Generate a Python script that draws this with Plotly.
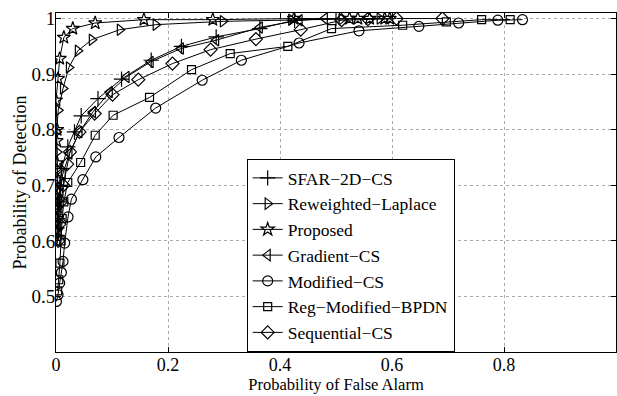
import plotly.graph_objects as go

# ---- data ----
sfar_x = [0.002, 0.003, 0.005, 0.007, 0.010, 0.021, 0.033, 0.045, 0.075, 0.117, 0.170, 0.224, 0.286, 0.364, 0.426, 0.500]
sfar_y = [0.610, 0.640, 0.670, 0.700, 0.730, 0.769, 0.796, 0.825, 0.856, 0.891, 0.925, 0.950, 0.967, 0.982, 0.997, 1.000]

rw_x = [0.002, 0.002, 0.003, 0.002, 0.002, 0.001, 0.004, 0.0125, 0.023, 0.039, 0.064, 0.114, 0.178, 0.298, 0.420, 0.510, 0.578]
rw_y = [0.620, 0.660, 0.700, 0.730, 0.760, 0.796, 0.835, 0.874, 0.912, 0.942, 0.962, 0.980, 0.989, 0.995, 0.998, 0.999, 1.000]

prop_x = [0.003, 0.002, 0.003, 0.002, 0.003, 0.002, 0.001, 0.002, 0.000, 0.0036, 0.0066, 0.014, 0.030, 0.070, 0.157, 0.280, 0.425, 0.524, 0.539, 0.560, 0.587, 0.596]
prop_y = [0.620, 0.640, 0.670, 0.690, 0.710, 0.740, 0.780, 0.800, 0.853, 0.892, 0.928, 0.966, 0.982, 0.992, 0.998, 0.998, 1.000, 1.000, 1.000, 1.000, 1.000, 1.000]

grad_x = [0.003, 0.004, 0.006, 0.008, 0.012, 0.024, 0.042, 0.066, 0.096, 0.126, 0.169, 0.223, 0.286, 0.364, 0.435, 0.480]
grad_y = [0.600, 0.630, 0.660, 0.690, 0.720, 0.757, 0.796, 0.832, 0.868, 0.895, 0.922, 0.946, 0.961, 0.984, 0.997, 1.000]

mod_x = [0.0007, 0.0036, 0.0066, 0.0096, 0.0125, 0.0155, 0.0215, 0.0275, 0.048, 0.071, 0.1125, 0.178, 0.261, 0.331, 0.434, 0.541, 0.648, 0.719, 0.789, 0.833]
mod_y = [0.491, 0.503, 0.524, 0.543, 0.563, 0.596, 0.643, 0.675, 0.710, 0.751, 0.786, 0.839, 0.889, 0.925, 0.956, 0.978, 0.986, 0.992, 0.997, 0.998]

reg_x = [0.003, 0.005, 0.007, 0.009, 0.011, 0.014, 0.021, 0.044, 0.070, 0.102, 0.167, 0.242, 0.311, 0.414, 0.492, 0.619, 0.697, 0.760, 0.811]
reg_y = [0.510, 0.530, 0.560, 0.600, 0.640, 0.670, 0.705, 0.741, 0.790, 0.826, 0.858, 0.908, 0.937, 0.950, 0.982, 0.988, 0.994, 0.998, 0.998]

seq_x = [0.004, 0.006, 0.009, 0.013, 0.020, 0.025, 0.042, 0.069, 0.101, 0.147, 0.208, 0.276, 0.357, 0.437, 0.510, 0.557, 0.608, 0.690]
seq_y = [0.600, 0.630, 0.670, 0.700, 0.738, 0.760, 0.796, 0.829, 0.863, 0.890, 0.919, 0.944, 0.963, 0.980, 0.997, 0.999, 1.000, 1.000]

names = ["SFAR\u22122D\u2212CS", "Reweighted\u2212Laplace", "Proposed", "Gradient\u2212CS",
         "Modified\u2212CS", "Reg\u2212Modified\u2212BPDN", "Sequential\u2212CS"]
series = [(sfar_x, sfar_y), (rw_x, rw_y), (prop_x, prop_y), (grad_x, grad_y),
          (mod_x, mod_y), (reg_x, reg_y), (seq_x, seq_y)]
symbols = ["cross-thin-open", "triangle-right-open", "star-open", "triangle-left-open",
           "circle-open", "square-open", "diamond-open"]
sizes = [11, 10, 10, 10, 10, 8, 10]

x_ticks = [0, 0.2, 0.4, 0.6, 0.8, 1]
y_ticks = [0.5, 0.6, 0.7, 0.8, 0.9, 1]

FONT = "Liberation Serif"

fig = go.Figure()
for (xs, ys), nm, sym, sz in zip(series, names, symbols, sizes):
    fig.add_trace(go.Scatter(
        x=xs, y=ys, name=nm, mode="lines+markers",
        line=dict(color="black", width=1),
        marker=dict(symbol=sym, size=sz, color="black",
                    line=dict(color="black", width=1.2)),
    ))

axis_common = dict(
    showline=True, linecolor="black", linewidth=1, mirror="ticks",
    ticks="inside", ticklen=5, tickcolor="black", tickwidth=1,
    showgrid=True, gridcolor="#aaaaaa", griddash="dot", gridwidth=1,
    zeroline=False,
)

fig.update_layout(
    width=617, height=396,
    margin=dict(l=56, r=1, t=13, b=44),
    paper_bgcolor="white", plot_bgcolor="white",
    font=dict(family=FONT, color="black"),
    showlegend=True,
    legend=dict(x=0.3405, y=0.0, xanchor="left", yanchor="bottom",
                bordercolor="black", borderwidth=1, bgcolor="white",
                font=dict(family=FONT, size=17.5, color="black"),
                itemwidth=30, tracegroupgap=0),
    xaxis=dict(range=[0, 1], tickvals=x_ticks, ticktext=["0", "0.2", "0.4", "0.6", "0.8", "1"],
               tickfont=dict(family=FONT, size=18, color="black"),
               title=dict(text="Probability of False Alarm", font=dict(family=FONT, size=16.5), standoff=1),
               ticklabelstandoff=-4,
               **axis_common),
    yaxis=dict(range=[0.4, 1.01], tickvals=y_ticks, ticktext=["0.5", "0.6", "0.7", "0.8", "0.9", "1"],
               tickfont=dict(family=FONT, size=19, color="black"),
               title=dict(text="Probability of Detection", font=dict(family=FONT, size=18), standoff=0),
               ticklabelstandoff=-4,
               **axis_common),
)

fig.write_html("out.html")
